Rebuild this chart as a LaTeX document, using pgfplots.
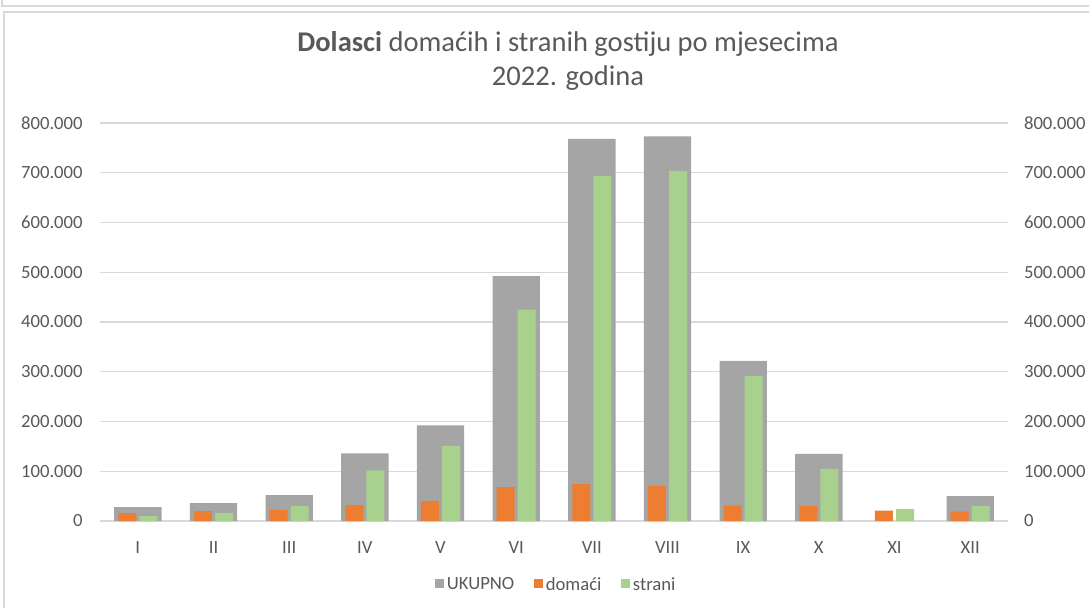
\documentclass[border=0pt]{standalone}
\usepackage{fontspec}
\setmainfont{Carlito}
\usepackage{pgfplots}
\pgfplotsset{compat=1.18}
\definecolor{ukupno}{HTML}{A5A5A5}
\definecolor{domaci}{HTML}{ED7D31}
\definecolor{strani}{HTML}{A9D18E}
\definecolor{txt}{HTML}{595959}
\definecolor{gridc}{HTML}{D9D9D9}
\begin{document}
\begin{tikzpicture}
\path[use as bounding box] (0pt,0pt) rectangle (816.75pt,456pt);
% frames
\draw[gridc, line width=1pt] (1.5pt,456pt) -- (1.5pt,451.5pt) -- (816.75pt,451.5pt);
\draw[gridc, line width=1.2pt] (3pt,0pt) -- (3pt,447pt) -- (816.75pt,447pt);
% title
\node[text=txt, align=center, font=\fontsize{21.4}{25.5}\selectfont] at (426pt,410pt)
  {\textbf{Dolasci} domaćih i stranih gostiju po mjesecima\\2022. godina};
\begin{axis}[
  at={(75pt,65.25pt)}, anchor=south west, scale only axis,
  width=681pt, height=298.5pt,
  xmin=0.5, xmax=12.5, ymin=0, ymax=800000,
  ytick={0,100000,...,800000},
  xtick={1,...,12},
  xticklabels={I,II,III,IV,V,VI,VII,VIII,IX,X,XI,XII},
  ybar,
  axis line style={draw=none},
  major tick length=0pt,
  ymajorgrids, grid style={gridc, line width=1pt},
  tick label style={font=\fontsize{14}{16}\selectfont, text=txt},
  yticklabel style={xshift=-9.5pt},
  xticklabel style={yshift=-12pt},
  scaled y ticks=false,
  /pgf/number format/.cd, fixed, 1000 sep={.}, assume math mode=true,
  /pgfplots/.cd,
  legend style={at={(0.503,-0.16)}, anchor=center, draw=none, fill=none,
    legend columns=3, font=\fontsize{14}{16}\selectfont, text=txt,
    /tikz/every even column/.append style={column sep=13pt}},
  legend image code/.code={\fill[#1] (0pt,-2.2pt) rectangle (6.6pt,4.4pt);},
]
\addplot[fill=ukupno, draw=none, bar width=35.5pt, bar shift=0pt] coordinates {
  (1,28000) (2,36000) (3,52000) (4,136000) (5,192000) (6,492000)
  (7,768000) (8,773000) (9,322000) (10,135000) (12,50000)};
\addlegendentry{UKUPNO}
\addplot[fill=domaci, draw=none, bar width=13.5pt, bar shift=-7.9pt] coordinates {
  (1,16000) (2,20000) (3,22000) (4,32000) (5,40000) (6,68000)
  (7,74000) (8,70000) (9,31000) (10,30000) (11,21000) (12,19000)};
\addlegendentry{domaći}
\addplot[fill=strani, draw=none, bar width=13.5pt, bar shift=7.9pt] coordinates {
  (1,10000) (2,16000) (3,30000) (4,102000) (5,151000) (6,425000)
  (7,693000) (8,704000) (9,291000) (10,105000) (11,24000) (12,30000)};
\addlegendentry{strani}
\end{axis}
\begin{axis}[
  at={(75pt,65.25pt)}, anchor=south west, scale only axis,
  width=681pt, height=298.5pt,
  xmin=0.5, xmax=12.5, ymin=0, ymax=800000,
  ytick={0,100000,...,800000},
  xtick=\empty,
  axis line style={draw=none},
  major tick length=0pt,
  yticklabel pos=right,
  tick label style={font=\fontsize{14}{16}\selectfont, text=txt},
  yticklabel style={xshift=8.5pt},
  scaled y ticks=false,
  /pgf/number format/.cd, fixed, 1000 sep={.}, assume math mode=true,
]
\end{axis}
\end{tikzpicture}
\end{document}
